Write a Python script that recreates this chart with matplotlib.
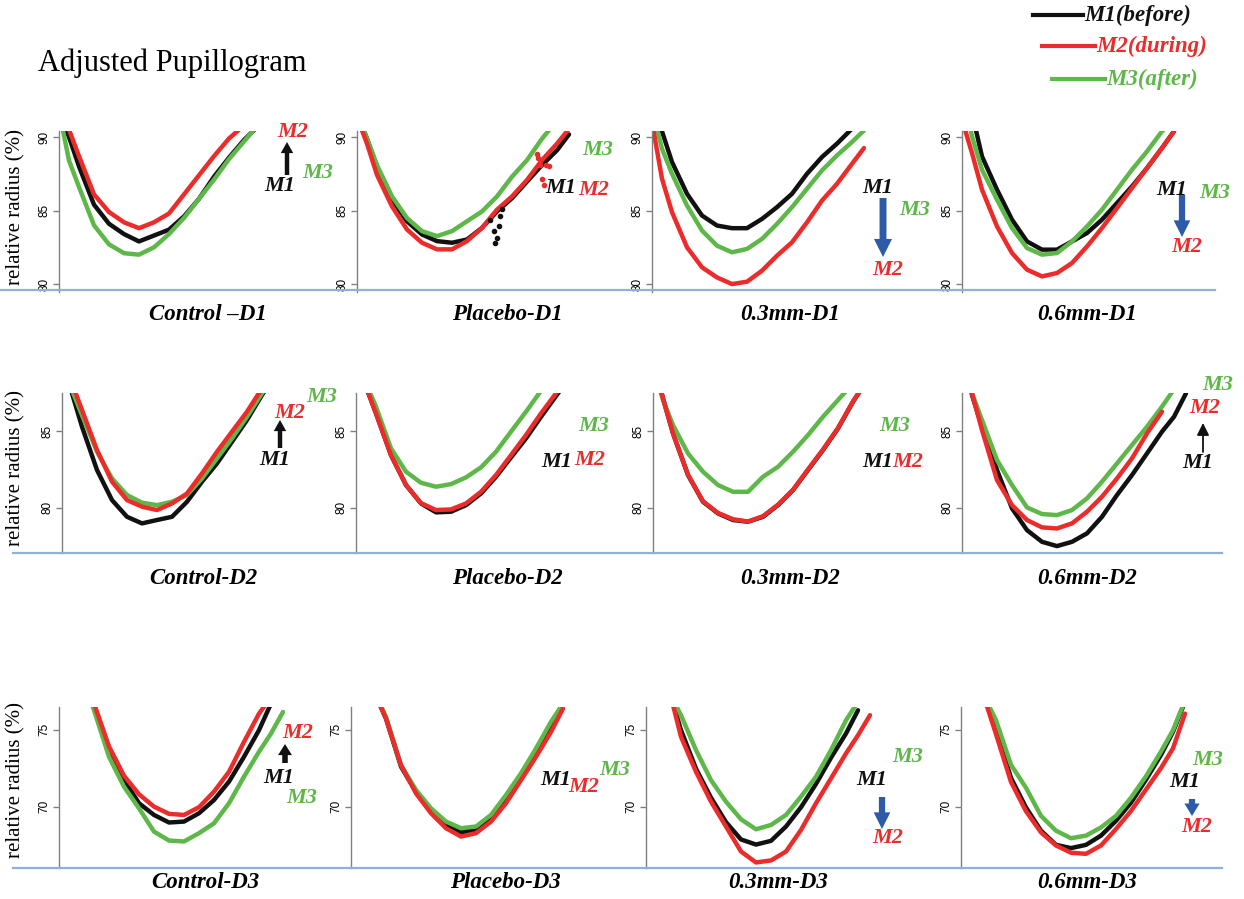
import matplotlib
matplotlib.use("Agg")
import matplotlib.pyplot as plt
from matplotlib.lines import Line2D
from matplotlib.patches import FancyArrowPatch, ArrowStyle

nan = float("nan")

# ---------------- data (sample time index, relative radius %) ----------------
t = [0, 10, 20, 35, 50, 65, 80, 95, 110, 125, 140, 155, 170, 185, 200, 212, 224]

# Row 1 (D1)
control_d1_m1 = [91.4, 90.0, 88.0, 85.4, 84.1, 83.4, 82.9, 83.3, 83.7, 84.6, 85.8, 87.3, 88.6, 89.8, 90.8, 91.6, nan]
control_d1_m2 = [91.1, 90.5, 88.7, 86.1, 84.9, 84.2, 83.8, 84.2, 84.8, 86.1, 87.4, 88.7, 89.9, 90.8, 91.8, 92.5, nan]
control_d1_m3 = [91.8, 88.4, 86.6, 84.0, 82.7, 82.1, 82.0, 82.5, 83.4, 84.5, 85.8, 87.1, 88.5, 89.7, 90.9, 91.8, nan]

placebo_d1_m1 = [91.57, 89.89, 87.98, 85.73, 84.27, 83.37, 82.92, 82.81, 83.03, 83.82, 84.94, 85.84, 86.97, 88.09, 89.10, 90.18, nan]
placebo_d1_m2 = [91.35, 89.55, 87.42, 85.28, 83.71, 82.81, 82.36, 82.36, 82.92, 83.82, 85.06, 85.96, 87.08, 88.43, 89.55, 90.56, nan]
placebo_d1_m3 = [91.57, 89.89, 88.09, 85.96, 84.49, 83.60, 83.26, 83.60, 84.27, 84.94, 85.96, 87.30, 88.43, 89.89, 91.12, 92.02, nan]
placebo_d1_m1_glitch_t = [133.3, 136.7, 138.3, 140.0, 141.7, 143.3, 145.0]
placebo_d1_m1_glitch_v = [84.38, 83.60, 82.81, 83.15, 83.93, 84.61, 85.10]
placebo_d1_m2_glitch_t = [179.5, 181.0, 183.3, 185.3, 186.7, 189.3, 191.5]
placebo_d1_m2_glitch_v = [88.85, 88.55, 88.09, 87.12, 86.74, 88.09, 88.05]

mm03_d1_m1 = [91.93, 90.39, 88.30, 86.14, 84.66, 83.98, 83.80, 83.80, 84.43, 85.23, 86.14, 87.50, 88.64, 89.55, 90.57, 91.48, nan]
mm03_d1_m2 = [91.02, 87.16, 84.89, 82.50, 81.14, 80.45, 80.00, 80.16, 80.91, 81.93, 82.84, 84.20, 85.68, 86.82, 88.18, 89.25, nan]
mm03_d1_m3 = [91.93, 89.20, 87.50, 85.34, 83.64, 82.61, 82.16, 82.39, 83.07, 84.09, 85.23, 86.48, 87.73, 88.75, 89.66, 90.45, nan]

mm06_d1_m1 = [93.67, 91.63, 88.68, 86.42, 84.38, 82.90, 82.34, 82.34, 82.90, 83.47, 84.38, 85.51, 86.64, 87.89, 89.25, 90.39, nan]
mm06_d1_m2 = [91.18, 88.91, 86.42, 83.92, 82.11, 80.98, 80.52, 80.75, 81.43, 82.56, 83.81, 85.17, 86.53, 87.89, 89.25, 90.39, nan]
mm06_d1_m3 = [93.00, 90.05, 87.78, 85.74, 83.81, 82.45, 82.00, 82.11, 82.90, 83.92, 85.06, 86.42, 87.78, 89.02, 90.39, 91.18, nan]

# Row 2 (D2)
control_d2_m1 = [89.85, 87.46, 85.28, 82.46, 80.50, 79.41, 78.98, 79.20, 79.41, 80.39, 81.70, 82.89, 84.30, 85.72, 87.35, 88.54, 89.80]
control_d2_m2 = [89.63, 88.11, 86.37, 83.76, 81.70, 80.50, 80.07, 79.85, 80.28, 80.93, 82.24, 83.65, 84.96, 86.26, 87.78, 88.76, 90.00]
control_d2_m3 = [89.41, 87.67, 86.04, 83.65, 81.91, 80.83, 80.33, 80.17, 80.39, 80.83, 81.91, 83.22, 84.52, 85.93, 87.46, 88.54, 89.70]

placebo_d2_m1 = [90.28, 87.89, 86.15, 83.43, 81.48, 80.28, 79.70, 79.74, 80.17, 80.93, 82.02, 83.28, 84.52, 85.93, 87.28, 88.33, 89.40]
placebo_d2_m2 = [90.28, 87.89, 86.15, 83.43, 81.48, 80.30, 79.85, 79.89, 80.28, 81.04, 82.13, 83.43, 84.74, 86.15, 87.46, 88.50, 89.50]
placebo_d2_m3 = [89.85, 88.11, 86.59, 83.87, 82.35, 81.63, 81.37, 81.54, 81.98, 82.63, 83.65, 84.96, 86.26, 87.63, 88.98, 90.07, 91.00]

mm03_d2_m1 = [89.63, 87.13, 84.85, 82.13, 80.39, 79.63, 79.20, 79.09, 79.41, 80.17, 81.15, 82.46, 83.76, 85.17, 86.91, 88.11, 89.10]
mm03_d2_m2 = [89.63, 87.13, 84.85, 82.15, 80.42, 79.66, 79.25, 79.10, 79.45, 80.20, 81.17, 82.50, 83.80, 85.20, 86.93, 88.12, 89.10]
mm03_d2_m3 = [89.19, 87.02, 85.39, 83.54, 82.35, 81.48, 81.04, 81.04, 82.02, 82.67, 83.65, 84.74, 85.93, 87.02, 88.11, 88.98, 90.00]

mm06_d2_m1 = [90.35, 87.35, 85.28, 82.46, 79.96, 78.54, 77.78, 77.50, 77.78, 78.33, 79.41, 80.83, 82.13, 83.54, 84.96, 85.93, 87.46]
mm06_d2_m2 = [89.85, 87.46, 85.07, 81.80, 80.17, 79.20, 78.72, 78.65, 78.98, 79.74, 80.72, 81.91, 83.22, 84.85, 86.26, nan, nan]
mm06_d2_m3 = [89.41, 87.46, 85.72, 83.11, 81.48, 80.02, 79.59, 79.52, 79.85, 80.61, 81.70, 82.89, 84.09, 85.28, 86.59, 87.72, nan]

# Row 3 (D3)
control_d3_m1 = [83.0, 81.2, 79.3, 76.47, 73.66, 71.72, 70.22, 69.46, 68.97, 69.03, 69.57, 70.43, 71.62, 73.23, 74.96, 76.68, 78.41]
control_d3_m2 = [83.2, 81.4, 79.5, 76.70, 73.90, 72.00, 70.80, 70.00, 69.53, 69.46, 69.96, 70.97, 72.26, 74.20, 76.03, 77.10, 78.20]
control_d3_m3 = [82.8, 81.0, 79.0, 76.25, 73.23, 71.29, 69.89, 68.38, 67.80, 67.74, 68.28, 68.92, 70.22, 71.94, 73.56, 74.74, 76.14]

placebo_d3_m1 = [81.2, 79.7, 77.9, 75.71, 72.59, 70.97, 69.78, 68.81, 68.32, 68.53, 69.35, 70.65, 72.05, 73.56, 75.28, 76.68, nan]
placebo_d3_m2 = [81.2, 79.7, 77.9, 75.71, 72.69, 70.86, 69.57, 68.60, 68.06, 68.28, 69.03, 70.22, 71.72, 73.23, 74.85, 76.36, nan]
placebo_d3_m3 = [81.2, 79.7, 77.9, 75.82, 72.69, 71.08, 69.89, 69.03, 68.60, 68.71, 69.46, 70.75, 72.16, 73.77, 75.50, 76.68, nan]

mm03_d3_m1 = [82.5, 80.5, 78.2, 74.96, 72.46, 70.58, 68.99, 67.87, 67.54, 67.78, 68.71, 69.96, 71.47, 73.17, 74.74, 76.25, nan]
mm03_d3_m2 = [82.8, 80.7, 78.4, 74.53, 72.26, 70.32, 68.71, 67.09, 66.38, 66.51, 67.09, 68.49, 70.22, 71.83, 73.45, 74.63, 75.93]
mm03_d3_m3 = [81.8, 79.9, 77.8, 75.93, 73.66, 71.72, 70.32, 69.18, 68.53, 68.81, 69.46, 70.65, 71.94, 73.66, 75.60, 76.80, nan]

mm06_d3_m1 = [81.4, 79.7, 77.95, 74.96, 71.86, 69.94, 68.44, 67.52, 67.31, 67.52, 68.12, 69.08, 70.26, 71.75, 73.35, 74.85, 76.80]
mm06_d3_m2 = [81.2, 79.5, 77.7, 74.70, 71.60, 69.70, 68.33, 67.48, 67.01, 66.94, 67.48, 68.55, 69.72, 71.11, 72.50, 73.78, 76.03]
mm06_d3_m3 = [81.0, 79.4, 77.6, 75.60, 72.71, 71.22, 69.40, 68.44, 67.95, 68.12, 68.65, 69.40, 70.58, 71.97, 73.57, 74.96, 76.88]

panel_titles = [
    ["Control \u2013D1", "Placebo-D1", "0.3mm-D1", "0.6mm-D1"],
    ["Control-D2", "Placebo-D2", "0.3mm-D2", "0.6mm-D2"],
    ["Control-D3", "Placebo-D3", "0.3mm-D3", "0.6mm-D3"],
]
series = [
    [(control_d1_m1, control_d1_m2, control_d1_m3), (placebo_d1_m1, placebo_d1_m2, placebo_d1_m3),
     (mm03_d1_m1, mm03_d1_m2, mm03_d1_m3), (mm06_d1_m1, mm06_d1_m2, mm06_d1_m3)],
    [(control_d2_m1, control_d2_m2, control_d2_m3), (placebo_d2_m1, placebo_d2_m2, placebo_d2_m3),
     (mm03_d2_m1, mm03_d2_m2, mm03_d2_m3), (mm06_d2_m1, mm06_d2_m2, mm06_d2_m3)],
    [(control_d3_m1, control_d3_m2, control_d3_m3), (placebo_d3_m1, placebo_d3_m2, placebo_d3_m3),
     (mm03_d3_m1, mm03_d3_m2, mm03_d3_m3), (mm06_d3_m1, mm06_d3_m2, mm06_d3_m3)],
]
row_yticks = [[80, 85, 90], [80, 85], [70, 75]]
legend_labels = ["M1(before)", "M2(during)", "M3(after)"]

# ---------------- styling / layout ----------------
BLACK, RED, GREEN, BLUE = "#111111", "#ec2b2b", "#5eb749", "#2e5ba8"
colors = [BLACK, RED, GREEN]
SERIF = "Liberation Serif"
SANS = "Liberation Sans"
FW, FH = 1244, 899

fig = plt.figure(figsize=(FW / 100, FH / 100), dpi=100)
fig.patch.set_facecolor("white")

def fx(x):
    return x / FW

def fy(y):
    return 1 - y / FH

row_top = [131, 393, 707]
row_bot = [292, 553, 868]
row_ylim = [(79.46, 90.41), (77.05, 87.48), (66.02, 76.46)]
spine_x = [[59, 357, 652, 962], [62, 356, 653, 962], [59, 351, 646, 961]]
title_x = [[208, 507, 790, 1087], [203, 507, 790, 1087], [205, 505, 778, 1087]]
title_y = [314, 579, 883]
ylabel_y = [207, 468, 780]
blue_line = [(0, 1215, 290), (13, 1222, 553), (13, 1222, 868)]
AXW = 280

for r in range(3):
    for c in range(4):
        x0 = spine_x[r][c]
        ax = fig.add_axes([fx(x0), fy(row_bot[r]), AXW / FW, (row_bot[r] - row_top[r]) / FH])
        ax.set_facecolor("none")
        m1, m2, m3 = series[r][c]
        ax.plot(t, m1, color=BLACK, lw=3.2, solid_joinstyle="round", solid_capstyle="round")
        ax.plot(t, m3, color=GREEN, lw=3.2, solid_joinstyle="round", solid_capstyle="round")
        ax.plot(t, m2, color=RED, lw=3.2, solid_joinstyle="round", solid_capstyle="round")
        if r == 0 and c == 1:
            ax.plot(placebo_d1_m1_glitch_t, placebo_d1_m1_glitch_v, "o", color=BLACK, ms=3)
            ax.plot(placebo_d1_m2_glitch_t, placebo_d1_m2_glitch_v, "o", color=RED, ms=3)
        ax.set_xlim(0, AXW)
        ax.set_ylim(*row_ylim[r])
        for s in ("top", "right", "bottom"):
            ax.spines[s].set_visible(False)
        ax.spines["left"].set_color("#808080")
        ax.spines["left"].set_linewidth(1.0)
        ax.set_xticks([])
        ax.set_yticks(row_yticks[r])
        ax.tick_params(axis="y", length=4, width=1, color="#808080", pad=2, labelsize=8.5)
        for lab in ax.get_yticklabels():
            lab.set_rotation(90)
            lab.set_va("center")
            lab.set_fontfamily(SANS)
        fig.text(fx(title_x[r][c]), fy(title_y[r]), panel_titles[r][c], ha="center", va="center",
                 fontsize=16.5, family=SERIF, weight="bold", style="italic")
    fig.text(fx(16), fy(ylabel_y[r]), "relative radius (%)", rotation=90, ha="center", va="center",
             fontsize=15, family=SERIF)
    xa, xb, yb = blue_line[r]
    fig.add_artist(Line2D([fx(xa), fx(xb)], [fy(yb), fy(yb)], color="#8eb0da", lw=1.6,
                          transform=fig.transFigure))

# title
fig.text(fx(38), fy(63), "Adjusted Pupillogram", ha="left", va="center", fontsize=22, family=SERIF)

# legend
leg_pos = [(1033, 1083, 15), (1042, 1095, 46), (1052, 1105, 79)]
for (xa, xb, yy), lab, col in zip(leg_pos, legend_labels, colors):
    fig.add_artist(Line2D([fx(xa), fx(xb)], [fy(yy), fy(yy)], color=col, lw=3,
                          transform=fig.transFigure))
    fig.text(fx(xb + 1), fy(yy), lab, ha="left", va="center", fontsize=16.5, family=SERIF,
             weight="bold", style="italic", color=col)

# panel annotations
def lab(x, y, s, col):
    fig.text(fx(x), fy(y), s, ha="center", va="center", fontsize=16, family=SERIF,
             weight="bold", style="italic", color=col)

def arrow(x, y0, y1, col, hw=0.9, hl=0.8, tw=0.32, thin=False):
    if thin:
        st = ArrowStyle("-|>", head_length=0.6, head_width=0.3)
        p = FancyArrowPatch((fx(x), fy(y0)), (fx(x), fy(y1)), transform=fig.transFigure,
                            arrowstyle=st, mutation_scale=12, color=col, lw=1.3,
                            shrinkA=0, shrinkB=0)
    else:
        st = ArrowStyle("simple", head_length=hl, head_width=hw, tail_width=tw)
        p = FancyArrowPatch((fx(x), fy(y0)), (fx(x), fy(y1)), transform=fig.transFigure,
                            arrowstyle=st, mutation_scale=10, color=col, lw=0,
                            shrinkA=0, shrinkB=0)
    fig.add_artist(p)

# R1C1
lab(293, 132, "M2", RED); arrow(287, 175, 142, BLACK); lab(280, 186, "M1", BLACK); lab(318, 173, "M3", GREEN)
# R1C2
lab(598, 150, "M3", GREEN); lab(561, 188, "M1", BLACK); lab(594, 190, "M2", RED)
# R1C3
lab(878, 188, "M1", BLACK); lab(915, 210, "M3", GREEN); lab(888, 270, "M2", RED)
arrow(883, 198, 257, BLUE, hw=1.3, hl=1.3, tw=0.5)
# R1C4
lab(1172, 190, "M1", BLACK); lab(1215, 193, "M3", GREEN); lab(1187, 247, "M2", RED)
arrow(1182, 195, 237, BLUE, hw=1.2, hl=1.2, tw=0.45)
# R2C1
lab(322, 397, "M3", GREEN); lab(290, 413, "M2", RED); lab(275, 460, "M1", BLACK)
arrow(280, 448, 420, BLACK)
# R2C2
lab(594, 426, "M3", GREEN); lab(557, 462, "M1", BLACK); lab(590, 460, "M2", RED)
# R2C3
lab(895, 426, "M3", GREEN); lab(878, 462, "M1", BLACK); lab(908, 462, "M2", RED)
# R2C4
lab(1218, 385, "M3", GREEN); lab(1205, 408, "M2", RED); lab(1198, 463, "M1", BLACK)
arrow(1203, 452, 423, BLACK, thin=True)
# R3C1
lab(298, 733, "M2", RED); arrow(285, 763, 744, BLACK, hw=1.0, hl=0.8, tw=0.4)
lab(279, 778, "M1", BLACK); lab(302, 798, "M3", GREEN)
# R3C2
lab(556, 780, "M1", BLACK); lab(584, 787, "M2", RED); lab(615, 770, "M3", GREEN)
# R3C3
lab(908, 757, "M3", GREEN); lab(872, 780, "M1", BLACK); lab(888, 838, "M2", RED)
arrow(882, 797, 829, BLUE, hw=1.2, hl=1.2, tw=0.45)
# R3C4
lab(1208, 760, "M3", GREEN); lab(1185, 782, "M1", BLACK); lab(1197, 827, "M2", RED)
arrow(1192, 799, 816, BLUE, hw=1.1, hl=0.9, tw=0.45)

fig.savefig("out.png", dpi=100, facecolor="white")
